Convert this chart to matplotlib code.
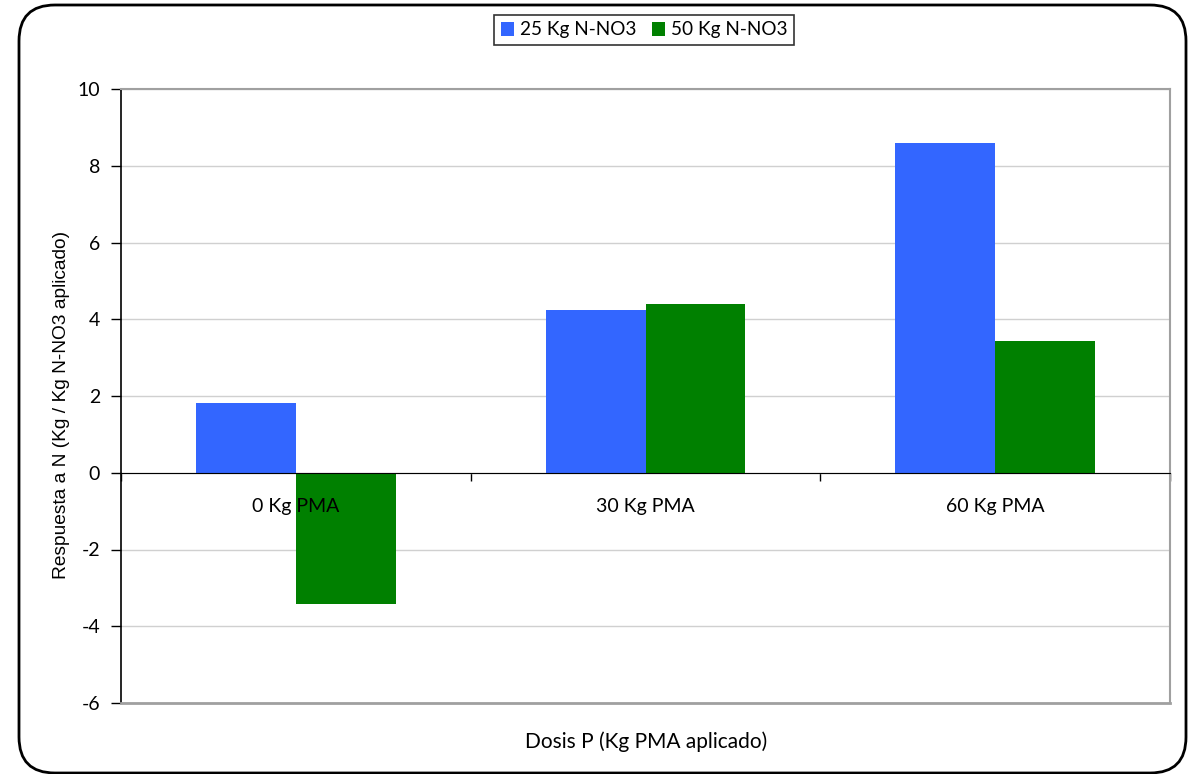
import matplotlib

matplotlib.use("Agg")
import matplotlib.pyplot as plt
import numpy as np
from matplotlib.patches import FancyBboxPatch

categories = ["0 Kg PMA", "30 Kg PMA", "60 Kg PMA"]
series_names = ["25 Kg N-NO3", "50 Kg N-NO3"]
n25 = [1.82, 4.23, 8.59]
n50 = [-3.42, 4.39, 3.43]

BLUE = "#3366FF"
GREEN = "#008000"
FONT = ["Lato", "DejaVu Sans"]
NARROW = ["Liberation Sans Narrow", "Liberation Sans", "DejaVu Sans"]

plt.rcParams["font.family"] = FONT
plt.rcParams["axes.unicode_minus"] = False

W, H = 1198, 774
fig = plt.figure(figsize=(W / 100, H / 100), dpi=100)

# rounded outer frame
frame = FancyBboxPatch(
    (19 / W, 1 - 773 / H),
    (1186 - 19) / W,
    (773 - 5) / H,
    boxstyle="round,pad=0,rounding_size=0.03",
    transform=fig.transFigure,
    facecolor="none",
    edgecolor="black",
    linewidth=2,
    mutation_aspect=W / H,
)
fig.patches.append(frame)

ax = fig.add_axes([121 / W, 1 - 703 / H, (1170 - 121) / W, (703 - 89) / H])

x = np.arange(len(categories))
bw = 0.2857
ax.bar(x - bw / 2, n25, width=bw, color=BLUE, label=series_names[0], zorder=3)
ax.bar(x + bw / 2, n50, width=bw, color=GREEN, label=series_names[1], zorder=3)

ax.set_xlim(-0.5, 2.5)
ax.set_ylim(-6, 10)
ax.set_yticks(np.arange(-6, 11, 2))
ax.tick_params(axis="y", direction="out", length=7, width=1, labelsize=14, pad=8)
ax.yaxis.grid(True, color="#d0d0d0", linewidth=1, zorder=0)

# category axis sits at zero
ax.spines["bottom"].set_position(("data", 0))
ax.spines["bottom"].set_zorder(4)
ax.set_xticks([-0.5, 0.5, 1.5, 2.5])
ax.set_xticklabels([])
ax.tick_params(axis="x", which="major", direction="out", length=6, width=1)

# category labels drawn above the bars
for xi, name in zip(x, categories):
    ax.annotate(name, xy=(xi, 0), xytext=(0, -24), textcoords="offset points",
                ha="center", va="center", fontsize=14, zorder=6)

for side in ["top", "right"]:
    ax.spines[side].set_color("#a0a0a0")
    ax.spines[side].set_linewidth(1.5)
ax.axhline(-6, color="#a0a0a0", linewidth=2, clip_on=False, zorder=4)
ax.spines["left"].set_linewidth(1.2)

fig.text(646 / W, 1 - 742 / H, "Dosis P (Kg PMA aplicado)", ha="center", va="center", fontsize=15)
fig.text(62 / W, 1 - 405 / H, "Respuesta a N (Kg / Kg N-NO3 aplicado)", ha="center", va="center",
         rotation=90, fontsize=13.8, family=NARROW)

leg = fig.legend(
    loc="center",
    bbox_to_anchor=(644 / W, 1 - 30 / H),
    ncol=2,
    fontsize=13.7,
    frameon=True,
    fancybox=False,
    edgecolor="black",
    handlelength=0.7,
    handleheight=0.7,
    handletextpad=0.3,
    columnspacing=0.8,
    borderpad=0.35,
    borderaxespad=0,
)
leg.get_frame().set_linewidth(1.2)

fig.savefig("out.png", dpi=100)
